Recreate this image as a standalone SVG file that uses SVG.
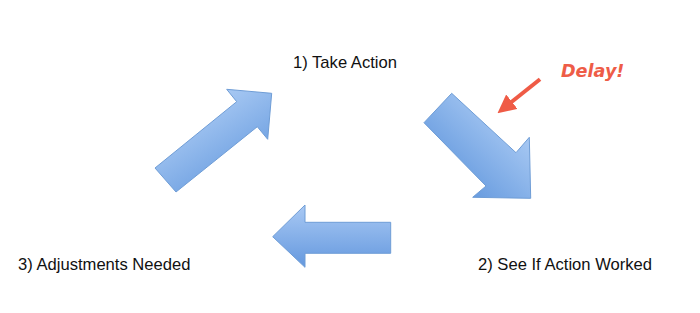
<svg xmlns="http://www.w3.org/2000/svg" width="700" height="313" viewBox="0 0 700 313">
  <style>
    .label { font-family: "Liberation Sans", Arial, sans-serif; font-size: 16.6px; fill: #111; }
    .big { stroke: #6f9dd6; stroke-width: 1; stroke-linejoin: miter; }
    .delay { font-family: "DejaVu Sans", Verdana, sans-serif; font-size: 17.6px; font-weight: bold; font-style: italic; fill: #ee5c47; }
  </style>
  <defs>
    <linearGradient id="g1" x1="0.2" y1="0.1" x2="0.8" y2="0.9">
      <stop offset="0" stop-color="#b5d2f7"/>
      <stop offset="1" stop-color="#6499de"/>
    </linearGradient>
    <linearGradient id="g2" x1="0.9" y1="0.1" x2="0.2" y2="0.8">
      <stop offset="0" stop-color="#b5d2f7"/>
      <stop offset="1" stop-color="#6499de"/>
    </linearGradient>
    <linearGradient id="g3" x1="0" y1="0" x2="0" y2="1">
      <stop offset="0" stop-color="#a9c9f4"/>
      <stop offset="1" stop-color="#6498de"/>
    </linearGradient>
    <marker id="redhead" viewBox="0 0 10 10" refX="2" refY="5" markerWidth="4.6" markerHeight="4.6" orient="auto" markerUnits="strokeWidth">
      <path d="M0,0 L10,5 L0,10 Z" fill="#ef5b46"/>
    </marker>
  </defs>

  <g id="connectors">
    <polygon id="arrow-take-to-see" class="big" fill="url(#g2)" points="451.7,93.3 516,152.7 529.3,137.3 530.7,198.3 472.7,197.3 486,186 424,122.7"/>
    <polygon id="arrow-see-to-adjust" class="big" fill="url(#g3)" points="390.7,222.3 305,222.3 305,205 272.7,236.7 305,267.3 305,253.3 390.7,253.3"/>
    <polygon id="arrow-adjust-to-take" class="big" fill="url(#g1)" points="155,168 236.7,101.7 226.7,89.3 271.7,93.3 267.7,139.3 257.3,126.7 176,192"/>
  </g>

  <g id="node-take-action">
    <text class="label" x="293" y="67.5">1) Take Action</text>
  </g>
  <g id="node-see-if-worked">
    <text class="label" x="478" y="269.5">2) See If Action Worked</text>
  </g>
  <g id="node-adjustments">
    <text class="label" x="18" y="269.5">3) Adjustments Needed</text>
  </g>
  <g id="delay">
    <line x1="540" y1="79.3" x2="509" y2="104" stroke="#ef5b46" stroke-width="4" marker-end="url(#redhead)"/>
    <text class="delay" x="561" y="76.5">Delay!</text>
  </g>
</svg>
